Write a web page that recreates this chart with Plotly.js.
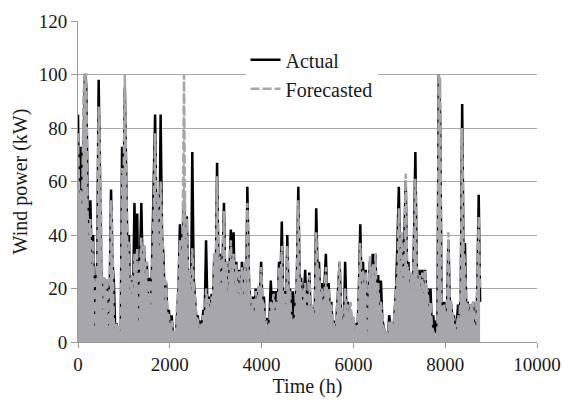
<!DOCTYPE html>
<html>
<head>
<meta charset="utf-8">
<script src="https://cdn.plot.ly/plotly-3.0.1.min.js"></script>
<style>
  html, body { margin: 0; padding: 0; background: #ffffff; }
  #chart { width: 563px; height: 401px; }
</style>
</head>
<body>
<div id="chart"></div>
<script>
// Wind power readings, one every 30 h (kW)
const STEP_H = 30;
const actual = [
  85, 40, 73, 45, 70, 100, 96, 54, 40, 53,
  28, 40, 2, 22, 30, 98, 60, 24, 12, 24,
  10, 22, 3, 18, 57, 30, 23, 5, 7, 2,
  5, 1, 73, 40, 95, 67, 30, 40, 10, 25,
  18, 52, 20, 48, 5, 30, 52, 25, 36, 17,
  30, 12, 24, 10, 33, 55, 85, 40, 55, 30,
  85, 40, 33, 15, 22, 8, 12, 4, 10, 2,
  4, 1, 12, 20, 44, 25, 40, 53, 30, 47,
  20, 27, 10, 71, 24, 15, 8, 10, 3, 8,
  5, 12, 10, 38, 12, 17, 8, 18, 14, 33,
  20, 67, 28, 33, 15, 30, 52, 20, 30, 12,
  25, 42, 20, 41, 12, 30, 10, 27, 8, 30,
  14, 29, 10, 58, 25, 17, 6, 17, 8, 20,
  12, 20, 15, 30, 12, 17, 5, 9, 2, 8,
  23, 10, 19, 8, 19, 12, 30, 20, 45, 15,
  19, 8, 40, 15, 20, 6, 19, 5, 15, 25,
  58, 20, 24, 12, 17, 27, 10, 15, 26, 10,
  13, 8, 12, 50, 25, 30, 15, 22, 10, 20,
  33, 15, 22, 10, 15, 4, 8, 2, 10, 20,
  30, 12, 8, 4, 30, 10, 15, 8, 12, 5,
  8, 3, 7, 4, 20, 44, 18, 30, 12, 27,
  1, 20, 30, 15, 33, 18, 33, 12, 25, 10,
  23, 8, 6, 2, 3, 1, 10, 5, 7, 3,
  12, 20, 37, 58, 20, 40, 18, 35, 60, 25,
  30, 15, 25, 17, 38, 71, 27, 20, 27, 15,
  27, 12, 27, 18, 20, 8, 20, 5, 10, 3,
  8, 2, 100, 85, 15, 12, 15, 5, 12, 38,
  15, 14, 8, 10, 3, 6, 14, 6, 20, 89,
  30, 37, 12, 15, 8, 14, 10, 15, 3, 2,
  20, 55, 15
];
const forecasted = [
  78, 50, 57, 50, 92, 100, 100, 47, 38, 46,
  25, 38, 2, 20, 28, 88, 70, 30, 10, 24,
  12, 24, 2, 15, 53, 40, 8, 4, 7, 3,
  6, 2, 65, 55, 100, 65, 28, 38, 8, 25,
  15, 33, 22, 35, 4, 28, 39, 24, 36, 18,
  30, 14, 23, 12, 30, 50, 78, 45, 55, 32,
  60, 45, 30, 14, 23, 10, 10, 5, 8, 3,
  4, 2, 14, 22, 38, 28, 42, 100, 32, 46,
  25, 27, 12, 35, 22, 14, 10, 8, 4, 7,
  5, 10, 8, 20, 14, 16, 10, 17, 15, 33,
  22, 62, 30, 32, 18, 31, 49, 22, 30, 14,
  26, 38, 22, 33, 15, 29, 14, 27, 10, 28,
  16, 30, 12, 52, 28, 18, 8, 16, 10, 19,
  13, 21, 16, 28, 15, 14, 6, 8, 3, 6,
  15, 12, 18, 10, 15, 14, 28, 22, 36, 16,
  18, 10, 36, 18, 19, 8, 8, 6, 14, 27,
  53, 22, 22, 14, 18, 22, 12, 14, 25, 12,
  14, 10, 11, 41, 27, 28, 17, 20, 12, 18,
  28, 16, 20, 12, 14, 6, 7, 3, 12, 24,
  30, 14, 10, 5, 20, 12, 14, 10, 15, 7,
  10, 5, 6, 5, 22, 37, 20, 27, 15, 26,
  2, 22, 32, 18, 29, 20, 33, 15, 22, 12,
  15, 10, 5, 3, 4, 2, 8, 6, 8, 5,
  14, 20, 26, 50, 24, 41, 22, 30, 63, 27,
  28, 17, 26, 20, 35, 61, 29, 22, 25, 16,
  26, 14, 27, 20, 19, 10, 15, 6, 4, 2,
  3, 3, 100, 98, 14, 10, 14, 6, 14, 41,
  16, 15, 10, 8, 4, 5, 10, 8, 22, 80,
  35, 30, 14, 14, 10, 14, 12, 15, 4, 3,
  22, 47, 20
];
const hours = actual.map((_, i) => i * STEP_H);

const xTickVals = [0, 2000, 4000, 6000, 8000, 10000];
const yTickVals = [0, 20, 40, 60, 80, 100, 120];

const FONT = 'Liberation Serif, serif';
const GREY = '#a7a7ab';

const traces = [
  {
    x: hours, y: actual, name: 'Actual', type: 'scatter', mode: 'lines',
    legendgroup: 'a',
    line: { color: '#000000', width: 2.5 }
  },
  {
    // shaded body of the dense hourly forecast curve
    x: hours, y: forecasted, name: 'Forecasted', type: 'scatter', mode: 'lines',
    showlegend: false, hoverinfo: 'skip',
    fill: 'tozeroy', fillcolor: GREY,
    line: { color: GREY, width: 0 }
  },
  {
    x: hours, y: forecasted, name: 'Forecasted', type: 'scatter', mode: 'lines',
    legendgroup: 'f',
    line: { color: GREY, width: 2.5, dash: '9px,3px' }
  }
];

const layout = {
  width: 563, height: 401,
  margin: { l: 78, r: 26, t: 21, b: 59, pad: 0 },
  paper_bgcolor: '#ffffff', plot_bgcolor: '#ffffff',
  font: { family: FONT, size: 19, color: '#1a1a1a' },
  showlegend: true,
  legend: {
    x: 0.365, y: 0.94, xanchor: 'left', yanchor: 'top',
    bgcolor: '#ffffff', borderwidth: 0,
    font: { family: FONT, size: 20, color: '#1a1a1a' },
    tracegroupgap: 12, traceorder: 'normal'
  },
  xaxis: {
    range: [0, 10000], tickvals: xTickVals, ticktext: xTickVals.map(String),
    ticks: 'outside', ticklen: 5, tickwidth: 1, tickcolor: '#9a9a9a',
    showline: true, linecolor: '#9a9a9a', linewidth: 1,
    showgrid: false, zeroline: false,
    tickfont: { family: FONT, size: 19, color: '#1a1a1a' },
    title: { text: 'Time (h)', font: { family: FONT, size: 20, color: '#1a1a1a' }, standoff: 4 }
  },
  yaxis: {
    range: [0, 120], tickvals: yTickVals, ticktext: yTickVals.map(String),
    ticks: 'outside', ticklen: 6, tickwidth: 1, tickcolor: '#9a9a9a',
    showline: true, linecolor: '#9a9a9a', linewidth: 1,
    showgrid: true, gridcolor: '#a8a8a8', gridwidth: 1, zeroline: false,
    tickfont: { family: FONT, size: 19, color: '#1a1a1a' },
    title: { text: 'Wind power (kW)', font: { family: FONT, size: 20, color: '#1a1a1a' }, standoff: 5 }
  }
};

Plotly.newPlot('chart', traces, layout, { staticPlot: true, displayModeBar: false });
</script>
</body>
</html>
